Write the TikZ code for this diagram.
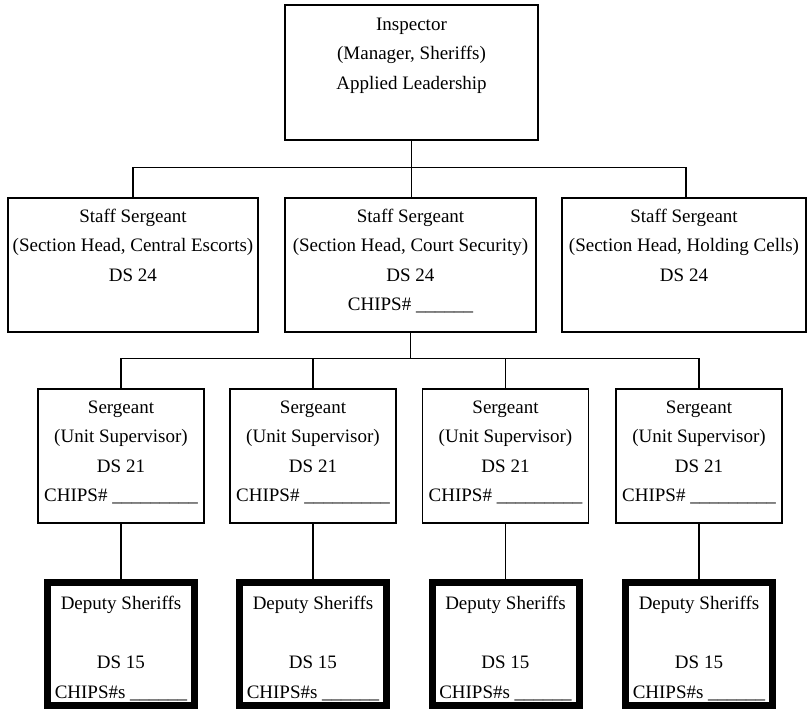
\documentclass[tikz,border=0pt]{standalone}
\usepackage{fontspec}
\setmainfont{Liberation Serif}
\usetikzlibrary{positioning}

\begin{document}
\begin{tikzpicture}[
    x=1pt, y=-1pt,
    box/.style={rectangle, draw=black, line width=1.3pt, inner sep=0pt},
    headbox/.style={box, minimum width=253pt, minimum height=135pt},
    staffbox/.style={box, minimum height=134pt},
    sgtbox/.style={box, minimum width=166pt, minimum height=134pt},
    deputybox/.style={box, line width=7pt, minimum width=147pt, minimum height=123pt},
    boxtext/.style={inner sep=0pt, align=center, font=\fontsize{19}{29.5}\selectfont},
    link/.style={line width=1.3pt}
]
\useasboundingbox (0,0) rectangle (809,711);

% Inspector
\node[headbox] (insp) at (411.5,72.5) {};
\node[boxtext, below=13.5pt of insp.north] (inspT) {Inspector\\(Manager, Sheriffs)\\Applied Leadership};

% Staff Sergeants
\node[staffbox, minimum width=250pt] (ss1) at (133,265) {};
\node[staffbox, minimum width=251pt] (ss2) at (410.5,265) {};
\node[staffbox, minimum width=244pt] (ss3) at (684,265) {};
\node[boxtext, below=11.5pt of ss1.north] (ss1T) {Staff Sergeant\\(Section Head, Central Escorts)\\DS 24};
\node[boxtext, below=11.5pt of ss2.north] (ss2T) {Staff Sergeant\\(Section Head, Court Security)\\DS 24\\CHIPS\# \_\_\_\_\_\_};
\node[boxtext, below=11.5pt of ss3.north] (ss3T) {Staff Sergeant\\(Section Head, Holding Cells)\\DS 24};

% Sergeants
\node[sgtbox] (sgt1) at (121,456) {};
\node[sgtbox] (sgt2) at (313,456) {};
\node[sgtbox] (sgt3) at (505.5,456) {};
\node[sgtbox] (sgt4) at (699,456) {};
\node[boxtext, below=12pt of sgt1.north] (sgt1T) {Sergeant\\(Unit Supervisor)\\DS 21\\CHIPS\# \_\_\_\_\_\_\_\_\_};
\node[boxtext, below=12pt of sgt2.north] (sgt2T) {Sergeant\\(Unit Supervisor)\\DS 21\\CHIPS\# \_\_\_\_\_\_\_\_\_};
\node[boxtext, below=12pt of sgt3.north] (sgt3T) {Sergeant\\(Unit Supervisor)\\DS 21\\CHIPS\# \_\_\_\_\_\_\_\_\_};
\node[boxtext, below=12pt of sgt4.north] (sgt4T) {Sergeant\\(Unit Supervisor)\\DS 21\\CHIPS\# \_\_\_\_\_\_\_\_\_};

% Deputy Sheriffs
\node[deputybox] (dep1) at (121,644) {};
\node[deputybox] (dep2) at (313,644) {};
\node[deputybox] (dep3) at (505.5,644) {};
\node[deputybox] (dep4) at (699,644) {};
\node[boxtext, below=17pt of dep1.north] (dep1T) {Deputy Sheriffs\\[29.5pt]DS 15\\CHIPS\#s \_\_\_\_\_\_};
\node[boxtext, below=17pt of dep2.north] (dep2T) {Deputy Sheriffs\\[29.5pt]DS 15\\CHIPS\#s \_\_\_\_\_\_};
\node[boxtext, below=17pt of dep3.north] (dep3T) {Deputy Sheriffs\\[29.5pt]DS 15\\CHIPS\#s \_\_\_\_\_\_};
\node[boxtext, below=17pt of dep4.north] (dep4T) {Deputy Sheriffs\\[29.5pt]DS 15\\CHIPS\#s \_\_\_\_\_\_};

% Upper level lines
\draw[link] (insp.south) -- (insp.south |- ss2.north);
\draw[link] (ss1.north) -- ++(0,-30) coordinate (bus1) -| ([xshift=2pt]ss3.north);

% Lower level lines
\draw[link] (sgt1.north) -- ++(0,-30) coordinate (bus2) -| (sgt4.north);
\draw[link] (ss2.south) -- (ss2.south |- bus2);
\draw[link] (sgt2.north) -- (sgt2.north |- bus2);
\draw[link] (sgt3.north) -- (sgt3.north |- bus2);

% Unit lines
\draw[link] (sgt1) -- (dep1);
\draw[link] (sgt2) -- (dep2);
\draw[link] (sgt3) -- (dep3);
\draw[link] (sgt4) -- (dep4);

\end{tikzpicture}
\end{document}
